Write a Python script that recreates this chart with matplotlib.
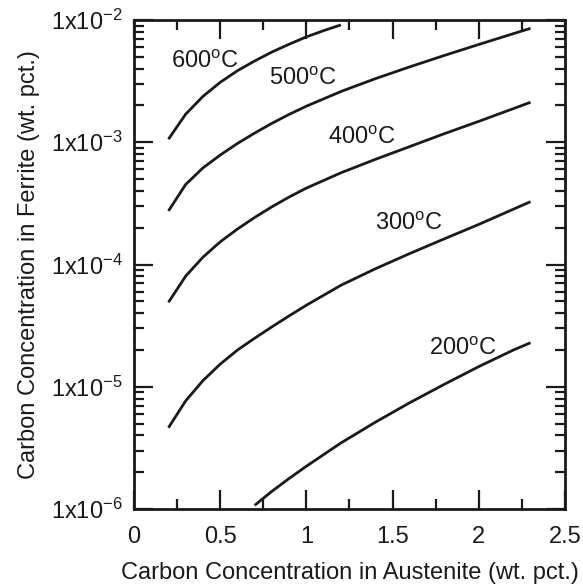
import matplotlib
matplotlib.use("Agg")
import matplotlib.pyplot as plt
from matplotlib.ticker import LogLocator, NullFormatter, MultipleLocator

plt.rcParams['font.family'] = ['Liberation Sans', 'DejaVu Sans']
plt.rcParams['mathtext.fontset'] = 'custom'
plt.rcParams['mathtext.rm'] = 'Liberation Sans'
plt.rcParams['mathtext.it'] = 'Liberation Sans'
plt.rcParams['mathtext.default'] = 'regular'

# ---- data: x = C in austenite (wt%), logy = log10(C in ferrite, wt%) ----
x_600 = [0.2, 0.3, 0.4, 0.5, 0.6, 0.7, 0.8, 0.9, 1.0, 1.1, 1.2]
logy_600 = [-2.975, -2.770, -2.625, -2.510, -2.415, -2.335, -2.262, -2.198, -2.138, -2.087, -2.040]

x_500 = [0.2, 0.3, 0.4, 0.5, 0.6, 0.7, 0.8, 0.9, 1.0, 1.2, 1.4, 1.6, 1.8, 2.0, 2.2, 2.3]
logy_500 = [-3.562, -3.345, -3.210, -3.105, -3.010, -2.925, -2.845, -2.772, -2.705,
            -2.585, -2.480, -2.383, -2.290, -2.200, -2.112, -2.068]

x_400 = [0.2, 0.3, 0.4, 0.5, 0.6, 0.7, 0.8, 0.9, 1.0, 1.2, 1.4, 1.6, 1.8, 2.0, 2.2, 2.3]
logy_400 = [-4.309, -4.095, -3.940, -3.815, -3.710, -3.615, -3.528, -3.448, -3.375,
            -3.250, -3.140, -3.035, -2.930, -2.829, -2.725, -2.673]

x_300 = [0.2, 0.3, 0.4, 0.5, 0.6, 0.7, 0.8, 0.9, 1.0, 1.2, 1.4, 1.6, 1.8, 2.0, 2.2, 2.3]
logy_300 = [-5.335, -5.115, -4.950, -4.815, -4.700, -4.603, -4.510, -4.420, -4.333,
            -4.170, -4.035, -3.910, -3.790, -3.672, -3.548, -3.486]

x_200 = [0.7, 0.8, 0.9, 1.0, 1.2, 1.4, 1.6, 1.8, 2.0, 2.2, 2.3]
logy_200 = [-5.970, -5.855, -5.750, -5.650, -5.460, -5.290, -5.130, -4.980, -4.835, -4.700, -4.640]

curves = [(x_600, logy_600), (x_500, logy_500), (x_400, logy_400),
          (x_300, logy_300), (x_200, logy_200)]

labels = ['600$^{o}$C', '500$^{o}$C', '400$^{o}$C', '300$^{o}$C', '200$^{o}$C']
label_x = [0.412, 0.977, 1.323, 1.596, 1.910]
label_logy = [-2.345, -2.478, -2.968, -3.670, -4.692]

x_ticks = [0, 0.5, 1, 1.5, 2, 2.5]
x_ticklabels = ['0', '0.5', '1', '1.5', '2', '2.5']
y_ticks = [1e-6, 1e-5, 1e-4, 1e-3, 1e-2]
y_ticklabels = ['1x10$^{-6}$', '1x10$^{-5}$', '1x10$^{-4}$', '1x10$^{-3}$', '1x10$^{-2}$']

INK = '#1a1a1a'

fig = plt.figure(figsize=(5.83, 5.85), dpi=100)
ax = fig.add_axes([0.2298, 0.1299, 0.7393, 0.8359])

for xs, ly in curves:
    ax.plot(xs, [10 ** v for v in ly], color=INK, lw=2.0, solid_capstyle='butt',
            solid_joinstyle='round')

for t, lx, ly in zip(labels, label_x, label_logy):
    ax.text(lx, 10 ** ly, t, ha='center', va='center', fontsize=17, color=INK)

ax.set_yscale('log')
ax.set_xlim(0, 2.5)
ax.set_ylim(1e-6, 1e-2)

ax.set_xticks(x_ticks)
ax.set_xticklabels(x_ticklabels)
ax.xaxis.set_minor_locator(MultipleLocator(0.25))
ax.set_yticks(y_ticks)
ax.set_yticklabels(y_ticklabels)
ax.yaxis.set_minor_locator(LogLocator(base=10, subs=range(2, 10), numticks=20))
ax.yaxis.set_minor_formatter(NullFormatter())

ax.tick_params(which='both', direction='in', top=True, right=True, width=1.6, colors=INK)
ax.tick_params(which='major', length=14, labelsize=17)
ax.tick_params(axis='x', which='major', pad=12)
ax.tick_params(axis='y', which='major', pad=8)
ax.tick_params(which='minor', length=7)
for s in ax.spines.values():
    s.set_linewidth(2.0)
    s.set_color(INK)

ax.set_xlabel('Carbon Concentration in Austenite (wt. pct.)', fontsize=17, color=INK, labelpad=10)
ax.set_ylabel('Carbon Concentration in Ferrite (wt. pct.)', fontsize=17, color=INK, labelpad=8)

fig.savefig('out.png', dpi=100)
